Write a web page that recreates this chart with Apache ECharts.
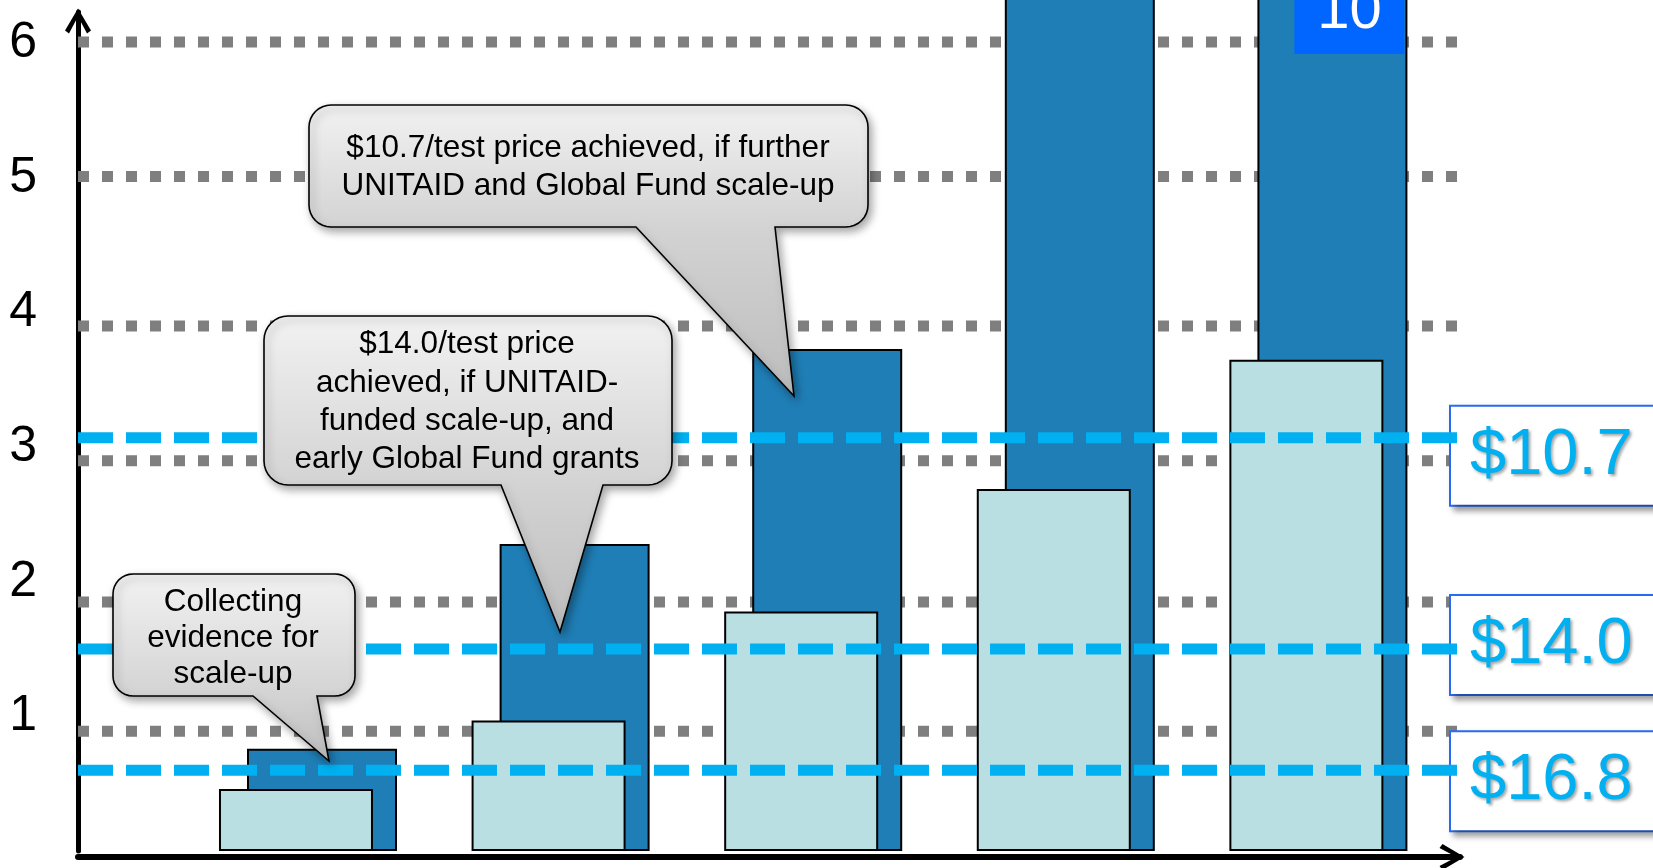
<!DOCTYPE html>
<html>
<head>
<meta charset="utf-8">
<script src="https://cdn.jsdelivr.net/npm/echarts@6/dist/echarts.min.js"></script>
<style>
html,body{margin:0;padding:0;background:#fff;}
#c{width:1653px;height:868px;}
</style>
</head>
<body>
<div id="c"></div>
<script>
// ---------------- data ----------------
const stages = ['Stage 1', 'Stage 2', 'Stage 3', 'Stage 4', 'Stage 5'];
const darkValues = [0.76, 2.28, 3.73, 7.0, 10];
const lightValues = [0.46, 0.97, 1.78, 2.69, 3.65];
const yTickLabels = [1, 2, 3, 4, 5, 6];
const gridLevels = [6.01, 5.01, 3.90, 2.90, 1.85, 0.89];
const priceLevels = [3.07, 1.50, 0.60];
const priceLabels = ['$10.7', '$14.0', '$16.8'];
const calloutTexts = [
  'Collecting\nevidence for\nscale-up',
  '$14.0/test price\nachieved, if UNITAID-\nfunded scale-up, and\nearly Global Fund grants',
  '$10.7/test price achieved, if further\nUNITAID and Global Fund scale-up'
];

// ---------------- layout / style ----------------
const X_MIN = -0.9105, X_MAX = 4.5606, Y_MAX = 6.233;
const FONT = '"Liberation Sans", Arial, Helvetica, sans-serif';
const CHEVRON = 'path://M13,0 L26,22 L22,25 L13,8 L4,25 L0,22 Z';
const PRICE_SHIFT = [18, -4, 11];
const CALLOUT_GEOM = [
  {x:113, y:574, w:242, h:122, r:20, bl:253, br:317, tx:329, ty:761, cx:233, cy:638, lh:36},
  {x:264, y:316, w:408, h:169, r:24, bl:501, br:603, tx:560, ty:632, cx:467, cy:402, lh:38.3},
  {x:309, y:105, w:559, h:122, r:22, bl:636, br:775, tx:794, ty:396, cx:588, cy:167.5, lh:38.4}
];

const option = {
  animation: false,
  backgroundColor: '#ffffff',
  grid: {left: 78, right: 193, top: 12, bottom: 17},
  xAxis: {
    type: 'value', min: X_MIN, max: X_MAX, offset: 6,
    axisLine: {show: true, onZero: false, lineStyle: {color: '#000', width: 6},
      symbol: ['none', CHEVRON], symbolSize: [26, 26], symbolOffset: [0, -8]},
    axisTick: {show: false}, axisLabel: {show: false}, splitLine: {show: false}
  },
  yAxis: {
    type: 'value', min: 0, max: Y_MAX, interval: 1,
    axisLine: {show: true, onZero: false, lineStyle: {color: '#000', width: 5},
      symbol: ['none', CHEVRON], symbolSize: [26, 26], symbolOffset: [0, -9]},
    axisTick: {show: false}, splitLine: {show: false},
    axisLabel: {
      formatter: v => yTickLabels.includes(v) ? String(v) : '',
      fontSize: 50, color: '#000', fontFamily: FONT, margin: 41
    }
  },
  series: [
    ...gridLevels.map(v => ({
      type: 'line', data: [[X_MIN, v], [X_MAX, v]], symbol: 'none', silent: true, z: 1,
      lineStyle: {color: '#7F7F7F', width: 11, type: [11, 13], cap: 'butt'}
    })),
    {
      type: 'bar', name: 'light',
      data: lightValues.map((v, i) => ({name: stages[i], value: [i, v]})),
      barWidth: 154, barGap: '-81.8%', z: 3, clip: false,
      itemStyle: {color: '#BADFE3', borderColor: '#000', borderWidth: 2}
    },
    {
      type: 'bar', name: 'dark',
      data: darkValues.map((v, i) => ({name: stages[i], value: [i, v]})),
      barWidth: 150, barGap: '-81.8%', z: 2, clip: false,
      itemStyle: {color: '#1F7EB6', borderColor: '#000', borderWidth: 2},
      markPoint: {
        symbol: 'rect', symbolSize: [110, 84], symbolOffset: [17, 0],
        itemStyle: {color: '#0066FF'},
        label: {show: true, position: 'inside', color: '#fff', fontSize: 58, fontFamily: FONT, formatter: '{c}'},
        data: [{coord: [4, Y_MAX], value: darkValues[4]}]
      }
    },
    ...priceLevels.map(v => ({
      type: 'line', data: [[X_MIN, v], [X_MAX, v]], symbol: 'none', silent: true, z: 4,
      lineStyle: {color: '#00B0F0', width: 11, type: [35, 13], cap: 'butt'}
    }))
  ]
};

const chart = echarts.init(document.getElementById('c'));
chart.setOption(option);

function bubblePoints(g) {
  const pts = [];
  const r = g.r;
  const arc = (cx, cy, a0, a1) => {
    for (let k = 0; k <= 8; k++) {
      const a = a0 + (a1 - a0) * k / 8;
      pts.push([cx + r * Math.cos(a), cy + r * Math.sin(a)]);
    }
  };
  arc(g.x + r, g.y + r, Math.PI, 1.5 * Math.PI);
  arc(g.x + g.w - r, g.y + r, 1.5 * Math.PI, 2 * Math.PI);
  arc(g.x + g.w - r, g.y + g.h - r, 0, 0.5 * Math.PI);
  pts.push([g.br, g.y + g.h]);
  pts.push([g.tx, g.ty]);
  pts.push([g.bl, g.y + g.h]);
  arc(g.x + r, g.y + g.h - r, 0.5 * Math.PI, Math.PI);
  return pts;
}

const graphics = [];
CALLOUT_GEOM.forEach((g, i) => {
  const f = g.h / (g.ty - g.y);
  graphics.push({
    type: 'polygon', z: 20,
    shape: {points: bubblePoints(g)},
    style: {
      fill: new echarts.graphic.LinearGradient(0, 0, 0, 1, [
        {offset: 0, color: '#F2F2F2'},
        {offset: f, color: '#D3D3D3'},
        {offset: 1, color: '#BDBDBD'}
      ]),
      stroke: '#000', lineWidth: 1.6,
      shadowBlur: 8, shadowColor: 'rgba(0,0,0,0.35)', shadowOffsetX: 3, shadowOffsetY: 4
    }
  });
  graphics.push({
    type: 'text', z: 21, x: g.cx, y: g.cy,
    style: {
      text: calloutTexts[i], fill: '#000', fontSize: 31.5, fontFamily: FONT,
      align: 'center', verticalAlign: 'middle', lineHeight: g.lh
    }
  });
});

priceLevels.forEach((v, i) => {
  const p = chart.convertToPixel({gridIndex: 0}, [X_MAX, v]);
  graphics.push({
    type: 'text', z: 3, x: p[0] - 9, y: p[1] + PRICE_SHIFT[i],
    style: {
      text: priceLabels[i], fill: '#00B0F0', fontSize: 65, fontFamily: FONT,
      align: 'left', verticalAlign: 'middle', lineHeight: 66,
      backgroundColor: '#fff', borderColor: '#2B6CF5', borderWidth: 2,
      padding: [16, 40, 16, 19],
      shadowBlur: 6, shadowColor: 'rgba(0,0,0,0.35)', shadowOffsetX: 4, shadowOffsetY: 4,
      textShadowBlur: 3, textShadowColor: 'rgba(0,0,0,0.35)', textShadowOffsetX: 2, textShadowOffsetY: 2
    }
  });
});

chart.setOption({graphic: {elements: graphics}});
</script>
</body>
</html>
